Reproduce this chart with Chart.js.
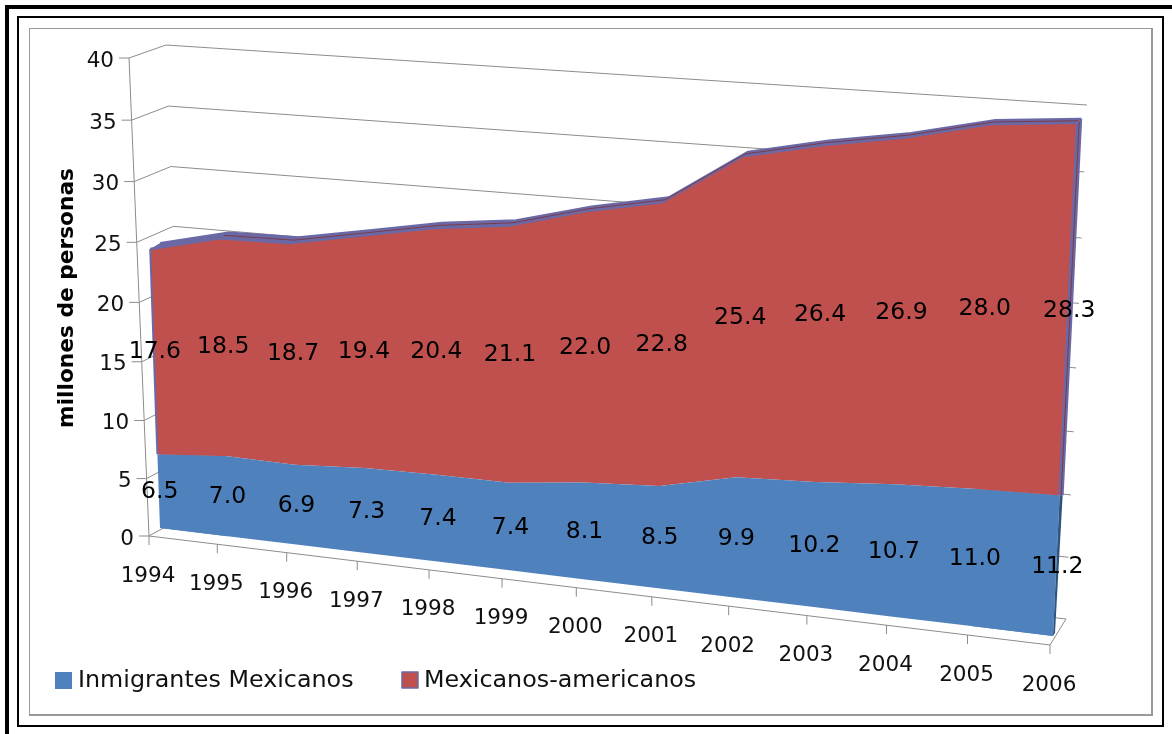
<!DOCTYPE html>
<html>
<head>
<meta charset="utf-8">
<title>Mexicanos en Estados Unidos</title>
<script src="https://cdn.jsdelivr.net/npm/chart.js@4"></script>
<style>
    body { margin: 0; background: #fff; width: 1172px; height: 734px; overflow: hidden; position: relative; }
    .frame { position: absolute; box-sizing: border-box; }
    #outer { left: 5px; top: 5px; width: 1167px; height: 729px; border-left: 4px solid #000; border-top: 4px solid #000; }
    #inner { left: 17px; top: 16px; width: 1147px; height: 711px; border: 2px solid #000; }
    #box { left: 29px; top: 28px; width: 1124px; height: 688px; border: 1px solid #999; border-right-width: 2px; border-bottom-width: 2px; }
    canvas { position: absolute; left: 0; top: 0; }
</style>
</head>
<body>
<div class="frame" id="outer"></div>
<div class="frame" id="inner"></div>
<div class="frame" id="box"></div>
<canvas id="myChart" width="1172" height="734"></canvas>
<script>
const years = ["1994", "1995", "1996", "1997", "1998", "1999", "2000", "2001", "2002", "2003", "2004", "2005", "2006"];
const floorLine = [0, 0, 0, 0, 0, 0, 0, 0, 0, 0, 0, 0, 0];
const inmigrantes = [6.5, 7.0, 6.9, 7.3, 7.4, 7.4, 8.1, 8.5, 9.9, 10.2, 10.7, 11.0, 11.2];
const mexicoAmericanos = [17.6, 18.5, 18.7, 19.4, 20.4, 21.1, 22.0, 22.8, 25.4, 26.4, 26.9, 28.0, 28.3];

const BLUE = "#4f81bd";
const RED = "#c0504d";
const EDGE = "#6a69a5";
const EDGE_DARK = "#7d3a4a";
const SIDE_BLUE = "#2e5480";
const GRID = "#8c8c8c";

// corners of each plane of the 3D box: [bottom left, bottom right, top right, top left]
const frontPlane = [[149, 536], [1050, 645], [1074, 118], [129, 58]];
const areaPlane = [[160, 528], [1053, 636], [1077.5, 116], [143.5, 57]];
const backPlane = [[185, 516], [1066, 619], [1087, 105], [166, 45]];

// unit square to quad homography
function makeProjection(q) {
    const [p0, p1, p2, p3] = q;
    const dx1 = p1[0] - p2[0], dx2 = p3[0] - p2[0], sx = p0[0] - p1[0] + p2[0] - p3[0];
    const dy1 = p1[1] - p2[1], dy2 = p3[1] - p2[1], sy = p0[1] - p1[1] + p2[1] - p3[1];
    const den = dx1 * dy2 - dx2 * dy1;
    const g = (sx * dy2 - dx2 * sy) / den;
    const h = (dx1 * sy - sx * dy1) / den;
    const a = p1[0] - p0[0] + g * p1[0], b = p3[0] - p0[0] + h * p3[0];
    const d = p1[1] - p0[1] + g * p1[1], e = p3[1] - p0[1] + h * p3[1];
    return (u, v) => {
        const w = g * u + h * v + 1;
        return { x: (a * u + b * v + p0[0]) / w, y: (d * u + e * v + p0[1]) / w };
    };
}
const onFront = makeProjection(frontPlane);
const onArea = makeProjection(areaPlane);
const onBack = makeProjection(backPlane);

// scale pixel -> plane position
function unit(chart, px, py) {
    const a = chart.chartArea;
    return [(px - a.left) / a.width, (a.bottom - py) / a.height];
}

function line(ctx, pts, color, width) {
    ctx.beginPath();
    pts.forEach((p, i) => i ? ctx.lineTo(p.x, p.y) : ctx.moveTo(p.x, p.y));
    ctx.strokeStyle = color;
    ctx.lineWidth = width;
    ctx.stroke();
}

function poly(ctx, pts, color) {
    ctx.beginPath();
    pts.forEach((p, i) => i ? ctx.lineTo(p.x, p.y) : ctx.moveTo(p.x, p.y));
    ctx.closePath();
    ctx.fillStyle = color;
    ctx.fill();
}

const perspective = {
    id: "perspective",
    // move every point of the stacked lines onto the slanted plane
    afterDatasetsUpdate(chart) {
        chart.data.datasets.forEach((ds, i) => {
            chart.getDatasetMeta(i).data.forEach(pt => {
                const [u, v] = unit(chart, pt.x, pt.y);
                const p = onArea(u, v);
                pt.x = p.x;
                pt.y = p.y;
            });
        });
    },
    // walls, gridlines and axis labels
    beforeDatasetsDraw(chart) {
        const ctx = chart.ctx;
        const xs = chart.scales.x, ys = chart.scales.y;
        ctx.save();
        ys.ticks.forEach(t => {
            const v = unit(chart, 0, ys.getPixelForValue(t.value))[1];
            const f = onFront(0, v), bl = onBack(0, v), br = onBack(1, v);
            line(ctx, [{ x: f.x - 10, y: f.y }, f, bl, br], GRID, 1);
            ctx.font = "21.5px 'DejaVu Sans'";
            ctx.textAlign = "right";
            ctx.textBaseline = "middle";
            ctx.fillStyle = "#111";
            ctx.fillText(String(t.value), f.x - 15, f.y + 3);
        });
        const bottomLeft = onFront(0, 0), topLeft = onFront(0, 1);
        line(ctx, [topLeft, bottomLeft], GRID, 1);
        line(ctx, [bottomLeft, onFront(1, 0), onBack(1, 0)], GRID, 1);
        years.forEach((label, i) => {
            const u = unit(chart, xs.getPixelForValue(i), 0)[0];
            const p = onFront(u, 0);
            line(ctx, [p, { x: p.x, y: p.y + 9 }], GRID, 1);
            ctx.font = "21.5px 'DejaVu Sans'";
            ctx.textAlign = "center";
            ctx.textBaseline = "middle";
            ctx.fillStyle = "#111";
            ctx.fillText(label, p.x - 1, p.y + 40);
        });
        ctx.restore();
    },
    // the thin depth faces of the area and the value labels
    afterDatasetsDraw(chart) {
        const ctx = chart.ctx;
        const base = chart.getDatasetMeta(0).data;
        const blue = chart.getDatasetMeta(1).data;
        const red = chart.getDatasetMeta(2).data;
        const last = red.length - 1;
        const depth = i => ({ x: 10 - 6 * i / last, y: -6 + 2 * i / last });
        const back = red.map((p, i) => ({ x: p.x + depth(i).x, y: p.y + depth(i).y }));
        const mid = red.map((p, i) => ({ x: p.x + depth(i).x / 2, y: p.y + depth(i).y / 2 }));

        ctx.save();
        ctx.lineJoin = "round";

        // the filler clips to its lower line's x range, so close the slanted ends
        [[0, 1], [last - 1, last]].forEach(([a, b]) => {
            poly(ctx, [base[a], base[b], blue[b], blue[a]], BLUE);
            poly(ctx, [blue[a], blue[b], red[b], red[a]], RED);
        });

        poly(ctx, red.concat(back.slice().reverse()), EDGE);
        line(ctx, red, EDGE, 2.5);
        line(ctx, back, EDGE, 2);
        line(ctx, mid.slice(1), EDGE_DARK, 1);

        // right side of the red band, then the blue one
        const rightBack = { x: blue[last].x + 3, y: blue[last].y };
        poly(ctx, [red[last], blue[last], rightBack, back[last]], EDGE);
        line(ctx, [red[last], blue[last]], EDGE, 2.5);
        line(ctx, [back[last], rightBack], EDGE, 2);
        line(ctx, [mid[last], { x: blue[last].x + 1.5, y: blue[last].y }], EDGE_DARK, 1);
        poly(ctx, [blue[last], base[last], { x: base[last].x + 2, y: base[last].y - 3 }, rightBack], SIDE_BLUE);
        line(ctx, [red[0], blue[0]], EDGE, 2);

        // value labels sit halfway up each band
        ctx.font = "23.5px 'DejaVu Sans'";
        ctx.textAlign = "center";
        ctx.textBaseline = "middle";
        ctx.fillStyle = "#000";
        const ys = chart.scales.y, xs = chart.scales.x;
        years.forEach((y, i) => {
            const u = unit(chart, xs.getPixelForValue(i), 0)[0];
            const inVal = inmigrantes[i], mxVal = mexicoAmericanos[i];
            const a = onArea(u, unit(chart, 0, ys.getPixelForValue(inVal / 2))[1]);
            const b = onArea(u, unit(chart, 0, ys.getPixelForValue(inVal + mxVal / 2))[1]);
            ctx.fillText(inVal.toFixed(1), a.x + 1, a.y + 1);
            ctx.fillText(mxVal.toFixed(1), b.x + 1, b.y - 1);
        });

        // axis title
        ctx.save();
        ctx.translate(67, 298);
        ctx.rotate(-Math.PI / 2);
        ctx.font = "bold 21.7px 'DejaVu Sans'";
        ctx.fillText("millones de personas", 0, 0);
        ctx.restore();

        // legend
        ctx.font = "23.8px 'DejaVu Sans'";
        ctx.textAlign = "left";
        ctx.fillStyle = BLUE;
        ctx.fillRect(55, 672, 17, 17);
        ctx.fillStyle = "#111";
        ctx.fillText(chart.data.datasets[1].label, 78, 681);
        ctx.fillStyle = RED;
        ctx.fillRect(402, 672, 16, 16);
        ctx.strokeStyle = EDGE;
        ctx.lineWidth = 1.5;
        ctx.strokeRect(402, 672, 16, 16);
        ctx.fillStyle = "#111";
        ctx.fillText(chart.data.datasets[2].label, 424, 681);
        ctx.restore();
    }
};

new Chart(document.getElementById("myChart").getContext("2d"), {
    type: "line",
    data: {
        labels: years,
        datasets: [
            { label: "", data: floorLine, borderWidth: 0, pointRadius: 0, fill: false, clip: false },
            { label: "Inmigrantes Mexicanos", data: inmigrantes, backgroundColor: BLUE, borderWidth: 0, pointRadius: 0, fill: "-1", clip: false },
            { label: "Mexicanos-americanos", data: mexicoAmericanos, backgroundColor: RED, borderWidth: 0, pointRadius: 0, fill: "-1", clip: false }
        ]
    },
    options: {
        responsive: false,
        animation: false,
        events: [],
        layout: { padding: 0 },
        plugins: { legend: { display: false }, tooltip: { enabled: false } },
        scales: {
            x: { display: false, offset: false },
            y: { display: false, stacked: true, min: 0, max: 40, ticks: { stepSize: 5 } }
        }
    },
    plugins: [perspective]
});
</script>
</body>
</html>
